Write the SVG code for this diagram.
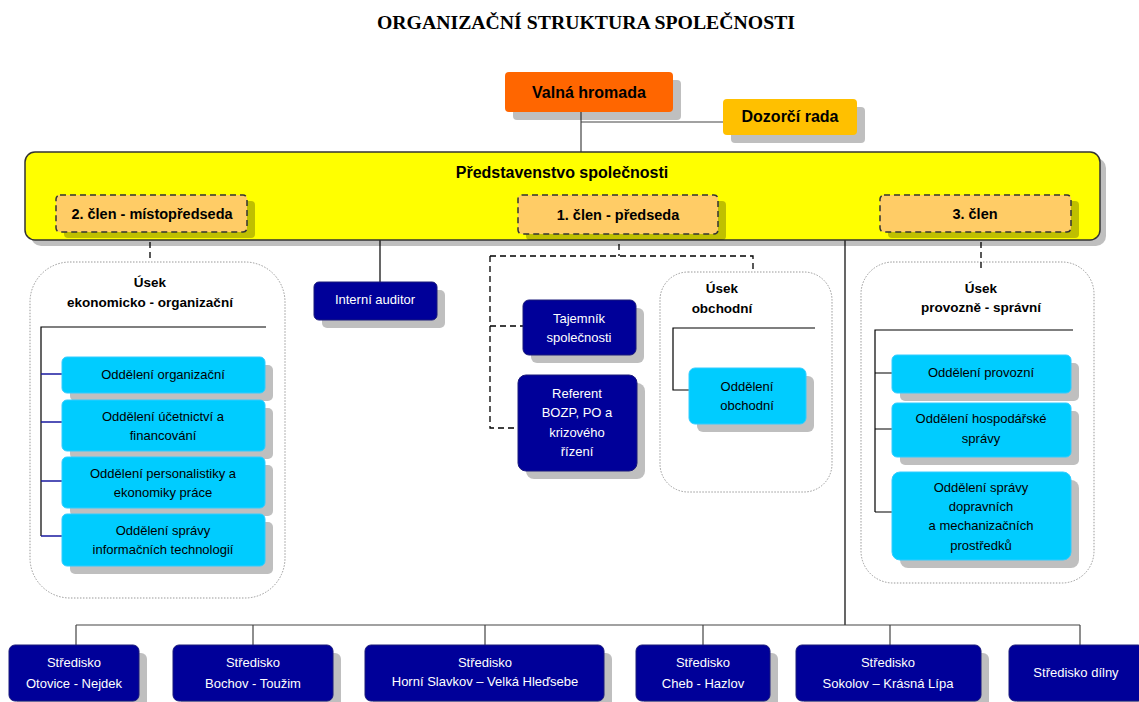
<svg xmlns="http://www.w3.org/2000/svg" width="1139" height="702" viewBox="0 0 1139 702">
<style>
text{font-family:"Liberation Sans",Arial,sans-serif;text-anchor:middle}
.title{font-family:"Liberation Serif","Times New Roman",serif;font-weight:bold;font-size:18px}
.big{font-size:16px;font-weight:bold;fill:#000}
.mem{font-size:13.5px;font-weight:bold;fill:#000}
.mb{font-size:14.5px;font-weight:bold;fill:#000}
.t{font-size:13px;fill:#000}
.w{font-size:13px;fill:#fff}
.sh{fill:#000;opacity:.25}
.navy{fill:#000099;stroke:#1a1a7a;stroke-width:1}
.cyan{fill:#00CCFF;stroke:#33ccff;stroke-width:1}
.memb{fill:#FFCC66;stroke:#333;stroke-width:1.5;stroke-dasharray:6 4}
.cont{fill:#fff;stroke:#999;stroke-width:1;stroke-dasharray:1.5 1.5}
.ln{fill:none;stroke:#000;stroke-width:1.2}
.lg{fill:none;stroke:#444;stroke-width:1.2}
.dash{fill:none;stroke:#000;stroke-width:1.3;stroke-dasharray:6 4}
.bl{fill:none;stroke:#1a1aa0;stroke-width:1.3}
</style>
<rect width="1139" height="702" fill="#fff"/>
<text class="title" x="586" y="29" textLength="418" lengthAdjust="spacingAndGlyphs">ORGANIZAČNÍ STRUKTURA SPOLEČNOSTI</text>

<g id="usek-ekonomicko">
  <rect class="cont" x="30" y="262" width="255" height="336" rx="40"/>
  <text class="mem" x="150" y="287">Úsek</text>
  <text class="mem" x="150" y="307">ekonomicko - organizační</text>
</g>
<g id="usek-obchodni">
  <rect class="cont" x="660" y="272" width="172" height="220" rx="28"/>
  <text class="mem" x="722" y="293">Úsek</text>
  <text class="mem" x="722" y="313">obchodní</text>
</g>
<g id="usek-provozne">
  <rect class="cont" x="861" y="262" width="233" height="321" rx="32"/>
  <text class="mem" x="981" y="293">Úsek</text>
  <text class="mem" x="981" y="312">provozně - správní</text>
</g>

<g id="connectors">
  <path class="lg" d="M581 112 V152 M581 122 H723"/>
  <path class="dash" d="M150 232 V262"/>
  <path class="ln" d="M380 240 V283"/>
  <path class="dash" d="M619 234 V256 M490 256 H753 V272 M490 256 V428 H518 M490 326 H523"/>
  <path class="ln" d="M845 240 V625"/>
  <path class="dash" d="M981 232 V270"/>
  <path class="lg" d="M76 625 H1080 M76 625 V645 M253 625 V645 M485 625 V645 M703 625 V645 M890 625 V645 M1080 625 V645"/>
  <path class="ln" d="M266 327 H41 V536"/>
  <path class="bl" d="M41 374 H62 M41 422 H62 M41 481 H62 M41 536 H62"/>
  <path class="ln" d="M815 328 H673 V390 H689"/>
  <path class="ln" d="M1073 330 H875 V512 M875 373 H892 M875 429 H892 M875 512 H892"/>
</g>

<g id="valna-hromada">
  <rect class="sh" x="513" y="80" width="168" height="40" rx="4"/>
  <rect x="505" y="72" width="168" height="40" rx="4" fill="#FF6600"/>
  <text class="big" x="589" y="98">Valná hromada</text>
</g>
<g id="dozorci-rada">
  <rect class="sh" x="731" y="107" width="134" height="36" rx="4"/>
  <rect x="723" y="99" width="134" height="36" rx="4" fill="#FFC000"/>
  <text class="big" x="790" y="122">Dozorčí rada</text>
</g>

<g id="predstavenstvo">
  <rect class="sh" x="31" y="158" width="1075" height="88" rx="10"/>
  <rect x="25" y="152" width="1075" height="88" rx="10" fill="#FFFF00" stroke="#333" stroke-width="1.5"/>
  <text class="big" x="562" y="178">Představenstvo společnosti</text>
</g>
<g id="clen2">
  <rect class="sh" x="64" y="201" width="191" height="37" rx="4"/>
  <rect class="memb" x="56" y="195" width="191" height="37" rx="4"/>
  <text class="mb" x="152" y="219">2. člen - místopředseda</text>
</g>
<g id="clen1">
  <rect class="sh" x="526" y="201" width="200" height="39" rx="4"/>
  <rect class="memb" x="518" y="195" width="200" height="39" rx="4"/>
  <text class="mb" x="618" y="220">1. člen - předseda</text>
</g>
<g id="clen3">
  <rect class="sh" x="888" y="201" width="191" height="37" rx="4"/>
  <rect class="memb" x="880" y="195" width="191" height="37" rx="4"/>
  <text class="mb" x="975" y="219">3. člen</text>
</g>

<g id="odd-organizacni">
  <rect class="sh" x="70" y="365" width="203" height="36" rx="5"/>
  <rect class="cyan" x="62" y="357" width="203" height="36" rx="5"/>
  <text class="t" x="163" y="379">Oddělení organizační</text>
</g>
<g id="odd-ucetnictvi">
  <rect class="sh" x="70" y="408" width="203" height="51" rx="5"/>
  <rect class="cyan" x="62" y="400" width="203" height="51" rx="5"/>
  <text class="t" x="163" y="421">Oddělení účetnictví a</text>
  <text class="t" x="163" y="440">financování</text>
</g>
<g id="odd-personalistiky">
  <rect class="sh" x="70" y="465" width="203" height="51" rx="5"/>
  <rect class="cyan" x="62" y="457" width="203" height="51" rx="5"/>
  <text class="t" x="163" y="478">Oddělení personalistiky a</text>
  <text class="t" x="163" y="497">ekonomiky práce</text>
</g>
<g id="odd-it">
  <rect class="sh" x="70" y="522" width="203" height="52" rx="5"/>
  <rect class="cyan" x="62" y="514" width="203" height="52" rx="5"/>
  <text class="t" x="163" y="535">Oddělení správy</text>
  <text class="t" x="163" y="554">informačních technologií</text>
</g>

<g id="interni-auditor">
  <rect class="sh" x="322" y="290" width="123" height="38" rx="5"/>
  <rect class="navy" x="314" y="282" width="123" height="38" rx="5"/>
  <text class="w" x="375" y="304">Interní auditor</text>
</g>
<g id="tajemnik">
  <rect class="sh" x="531" y="308" width="113" height="55" rx="6"/>
  <rect class="navy" x="523" y="300" width="113" height="55" rx="6"/>
  <text class="w" x="579" y="323">Tajemník</text>
  <text class="w" x="579" y="342">společnosti</text>
</g>
<g id="referent">
  <rect class="sh" x="526" y="383" width="119" height="96" rx="8"/>
  <rect class="navy" x="518" y="375" width="119" height="96" rx="8"/>
  <text class="w" x="577" y="398">Referent</text>
  <text class="w" x="577" y="417">BOZP, PO a</text>
  <text class="w" x="577" y="437">krizového</text>
  <text class="w" x="577" y="456">řízení</text>
</g>

<g id="odd-obchodni">
  <rect class="sh" x="697" y="376" width="117" height="56" rx="6"/>
  <rect class="cyan" x="689" y="368" width="117" height="56" rx="6"/>
  <text class="t" x="747" y="391">Oddělení</text>
  <text class="t" x="747" y="410">obchodní</text>
</g>

<g id="odd-provozni">
  <rect class="sh" x="900" y="363" width="179" height="38" rx="5"/>
  <rect class="cyan" x="892" y="355" width="179" height="38" rx="5"/>
  <text class="t" x="981" y="377">Oddělení provozní</text>
</g>
<g id="odd-hospodarske">
  <rect class="sh" x="900" y="411" width="179" height="54" rx="5"/>
  <rect class="cyan" x="892" y="403" width="179" height="54" rx="5"/>
  <text class="t" x="981" y="423">Oddělení hospodářské</text>
  <text class="t" x="981" y="443">správy</text>
</g>
<g id="odd-dopravnich">
  <rect class="sh" x="900" y="480" width="179" height="88" rx="8"/>
  <rect class="cyan" x="892" y="472" width="179" height="88" rx="8"/>
  <text class="t" x="981" y="492">Oddělení správy</text>
  <text class="t" x="981" y="511">dopravních</text>
  <text class="t" x="981" y="530">a mechanizačních</text>
  <text class="t" x="981" y="550">prostředků</text>
</g>

<g id="stredisko-otovice">
  <rect class="sh" x="17" y="653" width="130" height="56" rx="6"/>
  <rect class="navy" x="9" y="645" width="130" height="56" rx="6"/>
  <text class="w" x="74" y="667">Středisko</text>
  <text class="w" x="74" y="688">Otovice - Nejdek</text>
</g>
<g id="stredisko-bochov">
  <rect class="sh" x="181" y="653" width="160" height="56" rx="6"/>
  <rect class="navy" x="173" y="645" width="160" height="56" rx="6"/>
  <text class="w" x="253" y="667">Středisko</text>
  <text class="w" x="253" y="688">Bochov - Toužim</text>
</g>
<g id="stredisko-slavkov">
  <rect class="sh" x="373" y="653" width="239" height="56" rx="6"/>
  <rect class="navy" x="365" y="645" width="239" height="56" rx="6"/>
  <text class="w" x="485" y="667">Středisko</text>
  <text class="w" x="485" y="686">Horní  Slavkov – Velká Hleďsebe</text>
</g>
<g id="stredisko-cheb">
  <rect class="sh" x="644" y="653" width="134" height="56" rx="6"/>
  <rect class="navy" x="636" y="645" width="134" height="56" rx="6"/>
  <text class="w" x="703" y="667">Středisko</text>
  <text class="w" x="703" y="688">Cheb - Hazlov</text>
</g>
<g id="stredisko-sokolov">
  <rect class="sh" x="804" y="653" width="185" height="56" rx="6"/>
  <rect class="navy" x="796" y="645" width="185" height="56" rx="6"/>
  <text class="w" x="888" y="667">Středisko</text>
  <text class="w" x="888" y="688">Sokolov – Krásná Lípa</text>
</g>
<g id="stredisko-dilny">
  <rect class="sh" x="1017" y="653" width="135" height="56" rx="6"/>
  <rect class="navy" x="1009" y="645" width="135" height="56" rx="6"/>
  <text class="w" x="1076" y="677">Středisko dílny</text>
</g>
</svg>
